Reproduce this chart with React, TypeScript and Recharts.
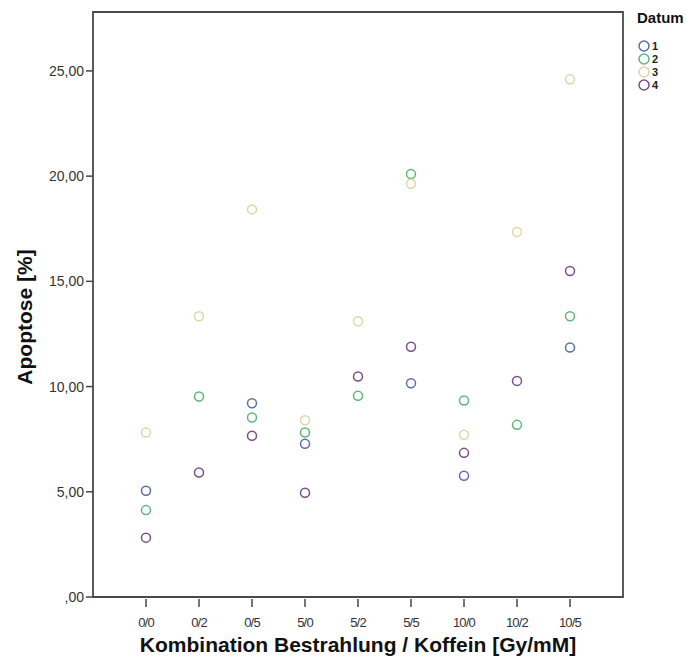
import React from 'react';
import { ScatterChart, Scatter, XAxis, YAxis, ReferenceArea, Label } from 'recharts';

const categories = ['0/0', '0/2', '0/5', '5/0', '5/2', '5/5', '10/0', '10/2', '10/5'];
const datum1 = [5.05, null, 9.21, 7.28, null, 10.16, 5.76, null, 11.86];
const datum2 = [4.13, 9.53, 8.53, 7.82, 9.56, 20.1, 9.34, 8.18, 13.34];
const datum3 = [7.82, 13.34, 18.42, 8.4, 13.1, 19.64, 7.71, 17.35, 24.6];
const datum4 = [2.82, 5.92, 7.66, 4.95, 10.48, 11.89, 6.85, 10.27, 15.49];
const yTicks = [0, 5, 10, 15, 20, 25];

const seriesNames = ['1', '2', '3', '4'];
const seriesValues = [datum1, datum2, datum3, datum4];
const colors = ['#5d6fa6', '#5fb77a', '#ddd6a6', '#7c4d8a'];

const toPoints = (vals: (number | null)[]) =>
  vals
    .map((v, i) => (v == null ? null : { x: i + 1, y: v }))
    .filter((p) => p !== null) as { x: number; y: number }[];

const fmtY = (v: number) => (v === 0 ? ',00' : v.toFixed(2).replace('.', ','));

const XTick = (props: any) => {
  const { x, y, payload } = props;
  return (
    <g>
      <line x1={x} x2={x} y1={y + 2} y2={y + 10} stroke="#444" strokeWidth={1.5} />
      <text x={x} y={y + 30} textAnchor="middle" fontSize={13} fill="#333" letterSpacing={-0.8}>
        {categories[payload.value - 1]}
      </text>
    </g>
  );
};

const ring = (color: string) => (props: any) => (
  <circle cx={props.cx} cy={props.cy} r={4.5} fill="none" stroke={color} strokeWidth={1.5} />
);

const YTitle = () => (
  <text x={32} y={317} transform="rotate(-90, 32, 317)" textAnchor="middle" fontSize={21} fontWeight="bold" fill="#111">
    Apoptose [%]
  </text>
);

const XTitle = () => (
  <text x={358} y={652} textAnchor="middle" fontSize={21} fontWeight="bold" fill="#111">
    Kombination Bestrahlung / Koffein [Gy/mM]
  </text>
);

export default function App() {
  return (
    <div style={{ position: 'absolute', left: 0, top: 0, width: 693, height: 659, background: '#fff', fontFamily: 'Liberation Sans, Arial, sans-serif' }}>
      <ScatterChart width={693} height={659} margin={{ top: 12, right: 70, bottom: 0, left: 0 }}>
        <XAxis
          type="number"
          dataKey="x"
          domain={[0, 10]}
          ticks={[1, 2, 3, 4, 5, 6, 7, 8, 9]}
          height={62}
          tickSize={0}
          tickMargin={0}
          tickLine={false}
          axisLine={false}
          tick={<XTick />}
          allowDataOverflow
        >
          <Label content={<XTitle />} />
        </XAxis>
        <YAxis
          type="number"
          dataKey="y"
          domain={[0, 27.8]}
          ticks={yTicks}
          width={93}
          tickSize={7}
          tickMargin={2}
          axisLine={false}
          tickLine={{ stroke: '#444', strokeWidth: 1.5 }}
          tickFormatter={fmtY}
          tick={{ fontSize: 14, fill: '#333' }}
          allowDataOverflow
        >
          <Label content={<YTitle />} />
        </YAxis>
        <ReferenceArea x1={0} x2={10} y1={0} y2={27.8} fill="none" stroke="#4a4a4a" strokeWidth={1.8} />
        {seriesValues.map((vals, i) => (
          <Scatter key={seriesNames[i]} name={seriesNames[i]} data={toPoints(vals)} shape={ring(colors[i])} isAnimationActive={false} />
        ))}
      </ScatterChart>
      <div style={{ position: 'absolute', left: 637, top: 9, color: '#111' }}>
        <div style={{ fontWeight: 'bold', fontSize: 15, height: 17, lineHeight: '17px', marginBottom: 13 }}>Datum</div>
        {seriesNames.map((n, i) => (
          <div key={n} style={{ display: 'flex', alignItems: 'center', height: 13, fontSize: 11, lineHeight: '12px', fontWeight: 'bold', color: '#222' }}>
            <svg width={14} height={12} style={{ marginRight: 1 }}>
              <circle cx={7} cy={6} r={5} fill="none" stroke={colors[i]} strokeWidth={1.5} />
            </svg>
            <span>{n}</span>
          </div>
        ))}
      </div>
    </div>
  );
}
